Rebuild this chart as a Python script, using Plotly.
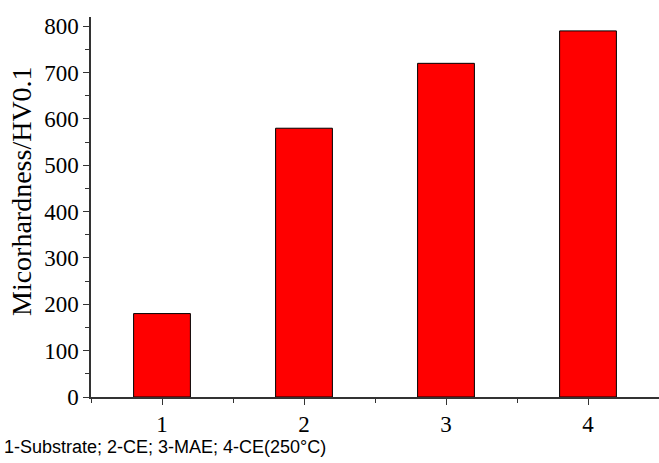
import plotly.graph_objects as go

categories = [1, 2, 3, 4]
hardness = [180, 580, 720, 790]
tick_vals = [0, 100, 200, 300, 400, 500, 600, 700, 800]
y_title = "Micorhardness/HV0.1"
note = "1-Substrate; 2-CE; 3-MAE; 4-CE(250°C)"

W, H = 659, 463
L, R, T, B = 91, 0, 17, 66
PW, PH = W - L - R, H - T - B

def px_x(p):
    return (p - L) / PW

def px_y(p):
    return (H - B - p) / PH

fig = go.Figure()
fig.add_trace(go.Bar(
    x=categories, y=hardness, width=0.4,
    marker=dict(color="#ff0000", line=dict(color="black", width=1)),
))

fig.update_layout(
    width=W, height=H,
    margin=dict(l=L, r=R, t=T, b=B, autoexpand=False),
    plot_bgcolor="white", paper_bgcolor="white",
    showlegend=False,
    font=dict(family="Liberation Serif", color="black", size=23),
)
fig.update_xaxes(
    range=[0.5, 4.5], tickvals=categories, ticks="outside", ticklen=6, tickwidth=1.2,
    showline=True, linecolor="#333", linewidth=1.5, showgrid=False, zeroline=False,
    tickfont=dict(family="Liberation Serif", size=23),
    minor=dict(tickvals=[0.5, 1.5, 2.5, 3.5, 4.5], ticks="outside", ticklen=4, tickwidth=1.2, tickcolor="#333"),
    tickcolor="#333", automargin=False,
)
fig.update_yaxes(
    range=[0, 820], tickvals=tick_vals, ticks="outside", ticklen=6, tickwidth=1.2,
    showline=True, linecolor="#333", linewidth=1.5, showgrid=False, zeroline=False,
    tickfont=dict(family="Liberation Serif", size=23),
    minor=dict(dtick=50, ticks="outside", ticklen=4, tickwidth=1.2, tickcolor="#333"),
    tickcolor="#333", automargin=False,
)
fig.add_annotation(
    text=y_title, xref="paper", yref="paper",
    x=px_x(21), y=px_y(191), xanchor="center", yanchor="middle",
    textangle=-90, showarrow=False,
    font=dict(family="Liberation Serif", size=28, color="black"),
)
fig.add_annotation(
    text=note, xref="paper", yref="paper",
    x=px_x(2), y=px_y(447),
    xanchor="left", yanchor="middle", showarrow=False,
    font=dict(family="Liberation Sans", size=18, color="black"),
)
fig.write_html("out.html", config={"displayModeBar": False},
               post_script="document.body.style.margin='0';document.body.style.overflow='hidden';")
